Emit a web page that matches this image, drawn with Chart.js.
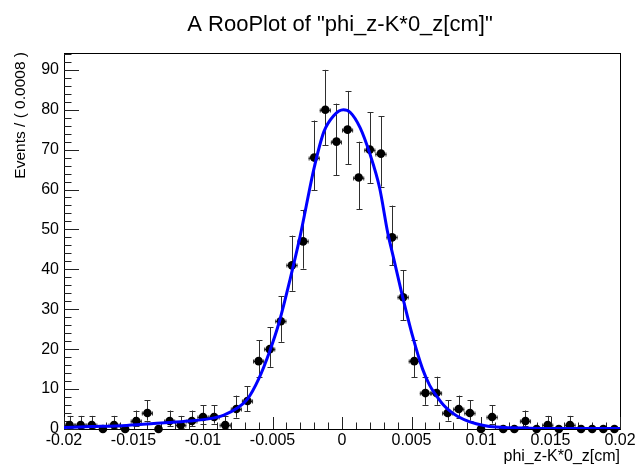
<!DOCTYPE html>
<html>
<head>
<meta charset="utf-8">
<script src="https://cdn.jsdelivr.net/npm/chart.js@4.4.1/dist/chart.umd.min.js"></script>
<style>
  html, body { margin: 0; padding: 0; background: #fff; }
  #wrap { position: relative; width: 635px; height: 470px; }
</style>
</head>
<body>
<div id="wrap"><canvas id="c"></canvas></div>
<script>
const FONT = '"Liberation Sans", Arial, Helvetica, sans-serif';
const X_MIN = -0.02, X_MAX = 0.02;
const Y_MIN = 0, Y_MAX = 94.2;
const HALF_BIN = 0.0004;

// bin centres of phi_z-K*0_z (bins of 0.0008 cm)
const binCenters = [
  -0.0196, -0.0188, -0.0180, -0.0172, -0.0164, -0.0156, -0.0148, -0.0140, -0.0132, -0.0124,
  -0.0116, -0.0108, -0.0100, -0.0092, -0.0084, -0.0076, -0.0068, -0.0060, -0.0052, -0.0044,
  -0.0036, -0.0028, -0.0020, -0.0012, -0.0004,  0.0004,  0.0012,  0.0020,  0.0028,  0.0036,
   0.0044,  0.0052,  0.0060,  0.0068,  0.0076,  0.0084,  0.0092,  0.0100,  0.0108,  0.0116,
   0.0124,  0.0132,  0.0140,  0.0148,  0.0156,  0.0164,  0.0172,  0.0180,  0.0188,  0.0196,
];
const counts = [
  1, 1, 1, 0, 1, 0, 2, 4, 0, 2,
  1, 2, 3, 3, 1, 5, 7, 17, 20, 27,
  41, 47, 68, 80, 72, 75, 63, 70, 69, 48,
  33, 17, 9, 9, 4, 5, 4, 0, 3, 0,
  0, 2, 0, 1, 0, 1, 0, 0, 0, 0,
];

// fitted pdf
const curveX = [
  -0.0200, -0.0180, -0.0155, -0.0130, -0.0110, -0.0095, -0.0085, -0.0075, -0.0068, -0.0060,
  -0.0052, -0.0045, -0.0037, -0.0030, -0.0020, -0.0013, -0.0006, 0.0001, 0.0006, 0.0013,
   0.0020,  0.0027,  0.0033,  0.0037,  0.0043,  0.0051,  0.0058, 0.0063, 0.0068, 0.0073,
   0.0078,  0.0083,  0.0092,  0.0102,  0.0111,  0.0135,  0.0160, 0.0200,
];
const curveY = [
  0.4, 0.6, 0.9, 1.5, 2.0, 2.6, 3.5, 5.3, 7.5, 12.5,
  19.5, 27, 38, 48.5, 65.5, 74.5, 78.5, 80, 79.3, 75.5,
  69, 60.5, 49, 43, 34, 23, 15, 11, 8.3, 6.0,
  4.4, 3.2, 1.8, 0.9, 0.5, 0.2, 0.12, 0.1,
];

const xTickVals   = [-0.02, -0.015, -0.01, -0.005, 0, 0.005, 0.01, 0.015, 0.02];
const xTickLabels = ['-0.02', '-0.015', '-0.01', '-0.005', '0', '0.005', '0.01', '0.015', '0.02'];
const yTickVals   = [0, 10, 20, 30, 40, 50, 60, 70, 80, 90];
const yTickLabels = ['0', '10', '20', '30', '40', '50', '60', '70', '80', '90'];

// 68% Poisson interval (Wilson-Hilferty approx.), as RooHist draws it
function poissonLo(n) {
  if (n === 0) return 0;
  return n * Math.pow(1 - 1 / (9 * n) - 1 / (3 * Math.sqrt(n)), 3);
}
function poissonHi(n) {
  const m = n + 1;
  return m * Math.pow(1 - 1 / (9 * m) + 1 / (3 * Math.sqrt(m)), 3);
}

const rooFrame = {
  id: 'rooFrame',
  beforeDatasetsDraw(chart) {
    const { ctx, chartArea: a, scales: { x, y } } = chart;
    ctx.save();
    // frame
    ctx.strokeStyle = '#000';
    ctx.lineWidth = 1;
    ctx.strokeRect(Math.round(a.left) + 0.5, Math.round(a.top) + 0.5,
                   Math.round(a.right - a.left), Math.round(a.bottom - a.top));
    // ticks, pointing inward
    ctx.strokeStyle = '#222';
    ctx.beginPath();
    for (let k = 0; k <= 40; k++) {
      const v = X_MIN + k * 0.001;
      const px = Math.round(x.getPixelForValue(v)) + 0.5;
      const len = k % 5 === 0 ? 12 : 6.5;
      ctx.moveTo(px, a.bottom);
      ctx.lineTo(px, a.bottom - len);
    }
    for (let v = 0; v <= Y_MAX; v += 2) {
      const py = Math.round(y.getPixelForValue(v)) + 0.5;
      const len = v % 10 === 0 ? 15 : 7.5;
      ctx.moveTo(a.left, py);
      ctx.lineTo(a.left + len, py);
    }
    ctx.stroke();

    // error bars of the data points
    ctx.strokeStyle = '#2e2e2e';
    ctx.beginPath();
    counts.forEach((n, i) => {
      if (n === 0) return;
      const cx = Math.round(x.getPixelForValue(binCenters[i])) + 0.5;
      const cy = Math.round(y.getPixelForValue(n)) + 0.5;
      const xl = x.getPixelForValue(binCenters[i] - HALF_BIN);
      const xr = x.getPixelForValue(binCenters[i] + HALF_BIN);
      const yl = y.getPixelForValue(poissonLo(n));
      const yh = y.getPixelForValue(poissonHi(n));
      ctx.moveTo(xl, cy); ctx.lineTo(xr, cy);
      ctx.moveTo(xl + 0.5, cy - 2); ctx.lineTo(xl + 0.5, cy + 2);
      ctx.moveTo(xr - 0.5, cy - 2); ctx.lineTo(xr - 0.5, cy + 2);
      ctx.moveTo(cx, yl); ctx.lineTo(cx, yh);
      ctx.moveTo(cx - 3, Math.round(yh) + 0.5); ctx.lineTo(cx + 3, Math.round(yh) + 0.5);
      ctx.moveTo(cx - 3, Math.round(yl) + 0.5); ctx.lineTo(cx + 3, Math.round(yl) + 0.5);
    });
    ctx.stroke();
    ctx.restore();
  },
  afterDraw(chart) {
    const { ctx, chartArea: a } = chart;
    ctx.save();
    ctx.fillStyle = '#000';
    ctx.textBaseline = 'alphabetic';
    ctx.font = '22px ' + FONT;
    ctx.textAlign = 'center';
    ctx.fillText('A RooPlot of "phi_z-K*0_z[cm]"', (a.left + a.right) / 2 - 2, 31);

    ctx.font = '16px ' + FONT;
    ctx.textAlign = 'right';
    ctx.fillText('phi_z-K*0_z[cm]', a.right, 461);

    ctx.translate(25, a.top - 1);
    ctx.rotate(-Math.PI / 2);
    ctx.font = '15.5px ' + FONT;
    ctx.textAlign = 'right';
    ctx.fillText('Events / ( 0.0008 )', 0, 0);
    ctx.restore();
  },
};

new Chart(document.getElementById('c'), {
  type: 'scatter',
  data: {
    datasets: [
      {
        type: 'line',
        label: 'pdf',
        data: curveX.map((v, i) => ({ x: v, y: curveY[i] })),
        borderColor: '#0000ff',
        borderWidth: 3,
        pointRadius: 0,
        fill: false,
        cubicInterpolationMode: 'monotone',
        order: 0,
      },
      {
        label: 'data',
        data: binCenters.map((v, i) => ({ x: v, y: counts[i] })),
        backgroundColor: '#000',
        borderWidth: 0,
        pointRadius: 4.3,
        clip: false,
        order: 1,
      },
    ],
  },
  options: {
    responsive: true, maintainAspectRatio: false,
    animation: false, events: [],
    layout: { padding: { top: 53, right: 15, left: 0, bottom: 0 } },
    plugins: { legend: { display: false }, tooltip: { enabled: false }, title: { display: false } },
    scales: {
      x: {
        type: 'linear', min: X_MIN, max: X_MAX,
        afterBuildTicks: s => { s.ticks = xTickVals.map(v => ({ value: v })); },
        afterFit: s => { s.height = 41; s.paddingLeft = 0; s.paddingRight = 0; },
        grid: { display: false, drawTicks: false },
        border: { display: false },
        ticks: {
          padding: 2, color: '#000', maxRotation: 0, autoSkip: false,
          font: { family: FONT, size: 16 },
          callback: (v, i) => xTickLabels[i],
        },
      },
      y: {
        min: Y_MIN, max: Y_MAX,
        afterBuildTicks: s => { s.ticks = yTickVals.map(v => ({ value: v })); },
        afterFit: s => { s.width = 64; },
        grid: { display: false, drawTicks: false },
        border: { display: false },
        ticks: {
          padding: 5, color: '#000', autoSkip: false,
          font: { family: FONT, size: 16 },
          callback: (v, i) => yTickLabels[i],
        },
      },
    },
  },
  plugins: [rooFrame],
});
</script>
</body>
</html>
